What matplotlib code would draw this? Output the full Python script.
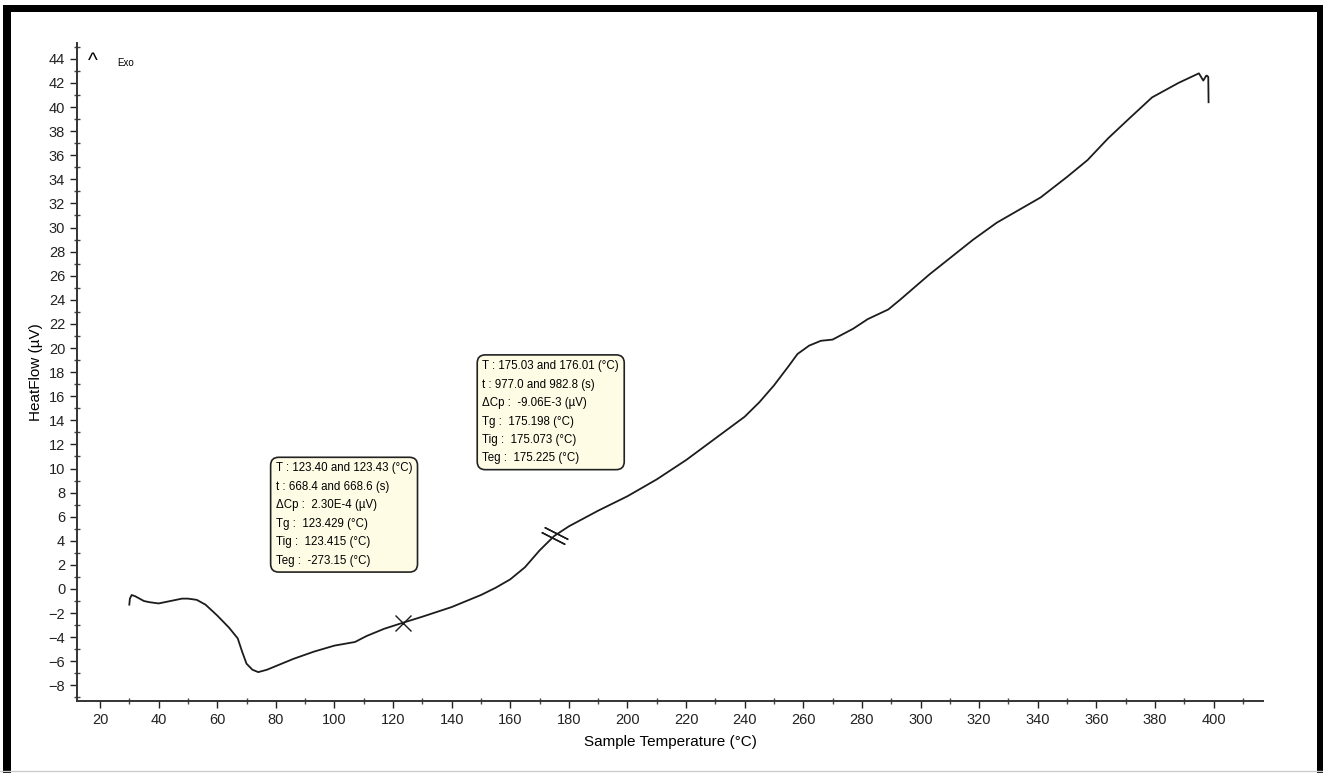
import matplotlib.pyplot as plt
import matplotlib.transforms as mtransforms
from matplotlib.lines import Line2D
from matplotlib.patches import Rectangle
from matplotlib.ticker import MultipleLocator
import numpy as np

plt.rcParams['font.family'] = ['Liberation Sans', 'DejaVu Sans']

# DSC trace: sample temperature (°C) vs heat flow (µV)
temp = [30.0, 30.2, 30.8, 32, 35, 37, 40, 44, 48, 50, 53, 56, 60, 64, 67, 68.5,
        70, 72, 74, 77, 80, 86, 93, 100, 107, 111, 117, 123.4, 130, 140, 150,
        155, 160, 165, 170, 175, 180, 190, 200, 210, 220, 230, 240, 245, 250,
        255, 258, 262, 266, 270, 277, 282, 289, 293, 303, 318, 326, 341, 350,
        357, 364, 371, 379, 388, 395, 396.5, 397.5, 397.8, 398.2, 398.3]
heat = [-1.3, -0.8, -0.5, -0.6, -1.0, -1.1, -1.2, -1.0, -0.8, -0.8, -0.9, -1.3,
        -2.2, -3.2, -4.1, -5.2, -6.2, -6.7, -6.9, -6.7, -6.4, -5.8, -5.2, -4.7,
        -4.4, -3.9, -3.3, -2.8, -2.3, -1.5, -0.5, 0.1, 0.8, 1.8, 3.2, 4.4, 5.2,
        6.5, 7.7, 9.1, 10.7, 12.5, 14.3, 15.5, 16.9, 18.5, 19.5, 20.2, 20.6,
        20.7, 21.6, 22.4, 23.2, 24.0, 26.1, 29.0, 30.4, 32.5, 34.2, 35.6, 37.4,
        39.0, 40.8, 42.0, 42.8, 42.2, 42.6, 42.6, 42.5, 40.4]

tg1 = 123.429
tg2 = 175.198
box1 = ["T : 123.40 and 123.43 (°C)", "t : 668.4 and 668.6 (s)",
        "ΔCp :  2.30E-4 (µV)", "Tg :  123.429 (°C)",
        "Tig :  123.415 (°C)", "Teg :  -273.15 (°C)"]
box2 = ["T : 175.03 and 176.01 (°C)", "t : 977.0 and 982.8 (s)",
        "ΔCp :  -9.06E-3 (µV)", "Tg :  175.198 (°C)",
        "Tig :  175.073 (°C)", "Teg :  175.225 (°C)"]

fig = plt.figure(figsize=(13.23, 7.73), dpi=100)
ax = fig.add_axes([0.0582, 0.0931, 0.8965, 0.851])

ax.plot(temp, heat, color='#1c1c1c', lw=1.3)

# glass transition markers
y1 = np.interp(tg1, temp, heat)
y2 = np.interp(tg2, temp, heat)
ax.plot(tg1, y1, marker='x', ms=12, mew=1.0, color='#1c1c1c')
for d in (-1, 1):
    tr = mtransforms.offset_copy(ax.transData, fig=fig, x=1.3 * d, y=2.6 * d, units='dots')
    ax.plot(tg2, y2, marker=(2, 2, 63), ms=19, mew=1.0, color='#1c1c1c', transform=tr)

bbox_style = dict(boxstyle='round,pad=0.45,rounding_size=0.7', fc='#fffce6',
                  ec='#222222', lw=1.2)
ax.text(80, 10.5, "\n".join(box1), fontsize=8.3, va='top', ha='left',
        linespacing=1.72, bbox=bbox_style)
ax.text(150.5, 19.0, "\n".join(box2), fontsize=8.3, va='top', ha='left',
        linespacing=1.72, bbox=bbox_style)

ax.set_xlim(12.15, 416.9)
ax.set_ylim(-9.3, 45.3)
ax.xaxis.set_major_locator(MultipleLocator(20))
ax.xaxis.set_minor_locator(MultipleLocator(10))
ax.yaxis.set_major_locator(MultipleLocator(2))
ax.yaxis.set_minor_locator(MultipleLocator(1))
ax.tick_params(which='major', direction='out', length=5, width=1, labelsize=10.5,
               colors='#222222')
ax.tick_params(which='minor', direction='inout', length=4, width=1, colors='#444444')
for s in ('top', 'right'):
    ax.spines[s].set_visible(False)
for s in ('left', 'bottom'):
    ax.spines[s].set_linewidth(1.4)
    ax.spines[s].set_color('#333333')

ax.set_xlabel("Sample Temperature (°C)", fontsize=11, labelpad=6)
ax.set_ylabel("HeatFlow (µV)", fontsize=11, labelpad=4)

ax.text(0.009, 0.972, "^", transform=ax.transAxes, fontsize=15, va='center')
ax.text(0.034, 0.97, "Exo", transform=ax.transAxes, fontsize=7, va='center')

# black picture frame
fig.add_artist(Rectangle((0.0023, 0.0), 0.006, 0.9935, transform=fig.transFigure,
                         color='black', lw=0))
fig.add_artist(Rectangle((0.0023, 0.984), 0.9977, 0.0095, transform=fig.transFigure,
                         color='black', lw=0))
fig.add_artist(Rectangle((0.9955, 0.0), 0.0045, 0.9935, transform=fig.transFigure,
                         color='black', lw=0))
fig.add_artist(Line2D([0, 1], [0.003, 0.003], transform=fig.transFigure,
                      color='#cccccc', lw=1))

fig.savefig("out.png", dpi=100)
